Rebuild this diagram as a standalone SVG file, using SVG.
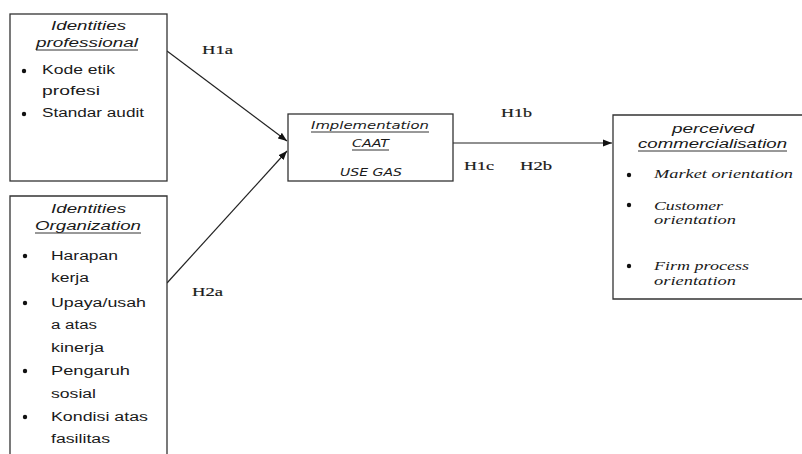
<svg xmlns="http://www.w3.org/2000/svg" width="802" height="454" viewBox="0 0 802 454">
<style>
.box{fill:#fff;stroke:#333;stroke-width:1.3}
.sans{font-family:"Liberation Sans",Arial,sans-serif;font-size:12.5px;fill:#1a1a1a}
.it{font-style:italic}
.caat{font-family:"DejaVu Sans","Liberation Sans",sans-serif;font-size:11px;font-style:italic;fill:#1a1a1a}
.serif{font-family:"Liberation Serif","Times New Roman",serif;font-size:13px;fill:#1a1a1a;stroke:#1a1a1a;stroke-width:0.2}
.sit{font-family:"Liberation Serif","Times New Roman",serif;font-size:12.5px;font-style:italic;fill:#1a1a1a}
.ul{stroke:#333;stroke-width:1}
.bul{fill:#111}
.conn{stroke:#222;stroke-width:1.2;fill:none}
</style>
<defs>
<marker id="arr" markerWidth="10" markerHeight="8" refX="9" refY="4" orient="auto" markerUnits="userSpaceOnUse">
<path d="M0,0.5 L9,4 L0,7.5 Z" fill="#111"/>
</marker>
</defs>
<rect width="802" height="454" fill="#fff"/>

<g id="connectors">
<line class="conn" x1="167" y1="51" x2="287" y2="141" marker-end="url(#arr)"/>
<line class="conn" x1="167" y1="283" x2="287" y2="151" marker-end="url(#arr)"/>
<line class="conn" x1="453" y1="143" x2="612" y2="143" marker-end="url(#arr)"/>
<text class="serif" x="202" y="54" textLength="31" lengthAdjust="spacingAndGlyphs">H1a</text>
<text class="serif" x="192" y="296" textLength="31" lengthAdjust="spacingAndGlyphs">H2a</text>
<text class="serif" x="501" y="117" textLength="31" lengthAdjust="spacingAndGlyphs">H1b</text>
<text class="serif" x="464" y="170" textLength="30" lengthAdjust="spacingAndGlyphs">H1c</text>
<text class="serif" x="520" y="170" textLength="32" lengthAdjust="spacingAndGlyphs">H2b</text>
</g>

<g id="node-professional">
<rect class="box" x="10" y="14" width="157" height="167"/>
<text class="sans it" x="51" y="30" textLength="75" lengthAdjust="spacingAndGlyphs">Identities</text>
<text class="sans it" x="36" y="47" textLength="102" lengthAdjust="spacingAndGlyphs">professional</text>
<line class="ul" x1="36" y1="50" x2="138" y2="50"/>
<circle class="bul" cx="24" cy="71" r="2.2"/>
<text class="sans" x="42" y="74" textLength="73" lengthAdjust="spacingAndGlyphs">Kode etik</text>
<text class="sans" x="42" y="95" textLength="58" lengthAdjust="spacingAndGlyphs">profesi</text>
<circle class="bul" cx="24" cy="114" r="2.2"/>
<text class="sans" x="42" y="117" textLength="102" lengthAdjust="spacingAndGlyphs">Standar audit</text>
</g>

<g id="node-organization">
<path class="box" d="M10,460 L10,196 L167,196 L167,460"/>
<text class="sans it" x="51" y="213" textLength="75" lengthAdjust="spacingAndGlyphs">Identities</text>
<text class="sans it" x="35" y="230" textLength="106" lengthAdjust="spacingAndGlyphs">Organization</text>
<line class="ul" x1="35" y1="233" x2="141" y2="233"/>
<circle class="bul" cx="25" cy="256" r="2.2"/>
<text class="sans" x="51" y="260" textLength="67" lengthAdjust="spacingAndGlyphs">Harapan</text>
<text class="sans" x="51" y="282" textLength="38" lengthAdjust="spacingAndGlyphs">kerja</text>
<circle class="bul" cx="25" cy="303" r="2.2"/>
<text class="sans" x="51" y="307" textLength="95" lengthAdjust="spacingAndGlyphs">Upaya/usah</text>
<text class="sans" x="51" y="329" textLength="46" lengthAdjust="spacingAndGlyphs">a atas</text>
<text class="sans" x="51" y="352" textLength="53" lengthAdjust="spacingAndGlyphs">kinerja</text>
<circle class="bul" cx="25" cy="371" r="2.2"/>
<text class="sans" x="51" y="375" textLength="79" lengthAdjust="spacingAndGlyphs">Pengaruh</text>
<text class="sans" x="51" y="398" textLength="45" lengthAdjust="spacingAndGlyphs">sosial</text>
<circle class="bul" cx="25" cy="417" r="2.2"/>
<text class="sans" x="51" y="421" textLength="97" lengthAdjust="spacingAndGlyphs">Kondisi atas</text>
<text class="sans" x="51" y="443" textLength="59" lengthAdjust="spacingAndGlyphs">fasilitas</text>
</g>

<g id="node-caat">
<rect class="box" x="288" y="114" width="165" height="67"/>
<text class="caat" x="311" y="129" textLength="118" lengthAdjust="spacingAndGlyphs">Implementation</text>
<line class="ul" x1="311" y1="132" x2="429" y2="132"/>
<text class="caat" x="352" y="147" textLength="37" lengthAdjust="spacingAndGlyphs">CAAT</text>
<line class="ul" x1="352" y1="150" x2="389" y2="150"/>
<text class="caat" x="340" y="176" textLength="62" lengthAdjust="spacingAndGlyphs">USE GAS</text>
</g>

<g id="node-commercialisation">
<path class="box" d="M810,115 L613,115 L613,299 L810,299"/>
<text class="sans it" x="672" y="133" textLength="82" lengthAdjust="spacingAndGlyphs">perceived</text>
<text class="sans it" x="638" y="148" textLength="149" lengthAdjust="spacingAndGlyphs">commercialisation</text>
<line class="ul" x1="638" y1="151" x2="787" y2="151"/>
<circle class="bul" cx="629" cy="175" r="2.2"/>
<text class="sit" x="654" y="178" textLength="139" lengthAdjust="spacingAndGlyphs">Market orientation</text>
<circle class="bul" cx="629" cy="205" r="2.2"/>
<text class="sit" x="654" y="210" textLength="69" lengthAdjust="spacingAndGlyphs">Customer</text>
<text class="sit" x="654" y="224" textLength="82" lengthAdjust="spacingAndGlyphs">orientation</text>
<circle class="bul" cx="629" cy="266" r="2.2"/>
<text class="sit" x="654" y="270" textLength="95" lengthAdjust="spacingAndGlyphs">Firm process</text>
<text class="sit" x="654" y="285" textLength="82" lengthAdjust="spacingAndGlyphs">orientation</text>
</g>
</svg>
